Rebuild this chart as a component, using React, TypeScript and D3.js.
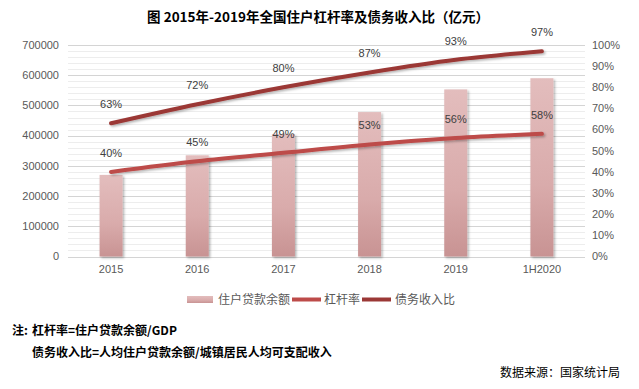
import React, { useEffect, useRef } from 'react';
import * as d3 from 'd3';

const categories = ['2015', '2016', '2017', '2018', '2019', '1H2020'];
const loanBalance = [270000, 335000, 405000, 478000, 553000, 590000];
const leverageRatio = [40, 45, 49, 53, 56, 58];
const debtIncomeRatio = [63, 72, 80, 87, 93, 97];
const leftTicks = [0, 100000, 200000, 300000, 400000, 500000, 600000, 700000];
const rightTicks = [0, 10, 20, 30, 40, 50, 60, 70, 80, 90, 100];
const legendLabels = ['住户贷款余额', '杠杆率', '债务收入比'];

const FONT = "'Liberation Sans', Arial, 'Noto Sans CJK SC', sans-serif";
const CJK = "'Noto Sans CJK SC', sans-serif";

function Chart() {
    const svgRef = useRef<SVGSVGElement>(null);

    useEffect(() => {
        const svg = d3.select(svgRef.current);
        svg.selectAll('*').remove();

        const width = 639;
        const height = 389;
        const margin = { top: 45, right: 54, bottom: 133, left: 68 };
        const plotBottom = height - margin.bottom + 0.5;

        const x = d3.scaleBand()
            .domain(categories)
            .range([margin.left, width - margin.right]);

        const yL = d3.scaleLinear().domain([0, 700000]).range([plotBottom, margin.top]);
        const yR = d3.scaleLinear().domain([0, 100]).range([plotBottom, margin.top]);

        const defs = svg.append('defs');
        const grad = defs.append('linearGradient')
            .attr('id', 'barGrad')
            .attr('x1', 0).attr('y1', 0).attr('x2', 0).attr('y2', 1);
        grad.append('stop').attr('offset', '0%').attr('stop-color', '#e3bdbd');
        grad.append('stop').attr('offset', '60%').attr('stop-color', '#d9abab');
        grad.append('stop').attr('offset', '100%').attr('stop-color', '#c89393');

        const shadow = defs.append('filter').attr('id', 'shadow')
            .attr('x', '-20%').attr('y', '-20%').attr('width', '150%').attr('height', '150%');
        shadow.append('feDropShadow')
            .attr('dx', 1.5).attr('dy', 1.5).attr('stdDeviation', 1.2)
            .attr('flood-color', '#000').attr('flood-opacity', 0.3);

        // title
        svg.append('text')
            .attr('x', 318).attr('y', 22)
            .attr('text-anchor', 'middle')
            .style('font-family', CJK)
            .style('font-size', '13.5px')
            .style('font-weight', 'bold')
            .attr('fill', '#000')
            .text('图 2015年-2019年全国住户杠杆率及债务收入比（亿元）');

        // grid: minor every 20000, major every 100000
        const minor = d3.range(0, 700001, 20000);
        svg.append('g').selectAll('line')
            .data(minor)
            .enter().append('line')
            .attr('x1', margin.left).attr('x2', width - margin.right)
            .attr('y1', d => Math.round(yL(d)) + 0.5)
            .attr('y2', d => Math.round(yL(d)) + 0.5)
            .attr('stroke', d => (d % 100000 === 0 ? '#d4d4d4' : '#ededed'))
            .attr('stroke-width', 1);

        // left axis labels
        svg.append('g').selectAll('text')
            .data(leftTicks)
            .enter().append('text')
            .attr('x', 59)
            .attr('y', d => yL(d))
            .attr('dy', '0.35em')
            .attr('text-anchor', 'end')
            .style('font-family', FONT)
            .style('font-size', '11px')
            .attr('fill', '#595959')
            .text(d => d);

        // right axis labels
        svg.append('g').selectAll('text')
            .data(rightTicks)
            .enter().append('text')
            .attr('x', 592)
            .attr('y', d => yR(d))
            .attr('dy', '0.35em')
            .style('font-family', FONT)
            .style('font-size', '11px')
            .attr('fill', '#595959')
            .text(d => d + '%');

        // x labels
        svg.append('g').selectAll('text')
            .data(categories)
            .enter().append('text')
            .attr('x', d => (x(d) as number) + x.bandwidth() / 2)
            .attr('y', 273)
            .attr('text-anchor', 'middle')
            .style('font-family', FONT)
            .style('font-size', '11px')
            .attr('fill', '#595959')
            .text(d => d);

        // bars
        const barW = 23;
        svg.append('g').selectAll('rect')
            .data(loanBalance)
            .enter().append('rect')
            .attr('x', (d, i) => (x(categories[i]) as number) + x.bandwidth() / 2 - barW / 2)
            .attr('y', d => yL(d))
            .attr('width', barW)
            .attr('height', d => plotBottom - yL(d))
            .attr('fill', 'url(#barGrad)')
            .attr('filter', 'url(#shadow)');

        const cx = (i: number) => (x(categories[i]) as number) + x.bandwidth() / 2;

        const line = d3.line<number>()
            .x((d, i) => cx(i))
            .y(d => yR(d))
            .curve(d3.curveMonotoneX);

        const series = [
            { data: leverageRatio, color: '#bd4b49' },
            { data: debtIncomeRatio, color: '#9b3836' },
        ];

        series.forEach(s => {
            svg.append('path')
                .datum(s.data)
                .attr('fill', 'none')
                .attr('stroke', s.color)
                .attr('stroke-width', 4)
                .attr('stroke-linecap', 'round')
                .attr('filter', 'url(#shadow)')
                .attr('d', line);

            svg.append('g').selectAll('text')
                .data(s.data)
                .enter().append('text')
                .attr('x', (d, i) => cx(i))
                .attr('y', d => yR(d) - 15)
                .attr('text-anchor', 'middle')
                .style('font-family', FONT)
                .style('font-size', '11px')
                .attr('fill', '#404040')
                .text(d => d + '%');
        });

        // legend
        const lg = svg.append('g');
        lg.append('rect')
            .attr('x', 187).attr('y', 296)
            .attr('width', 26).attr('height', 7)
            .attr('fill', 'url(#barGrad)');
        lg.append('text')
            .attr('x', 218).attr('y', 303.5)
            .style('font-family', CJK).style('font-size', '12px')
            .attr('fill', '#595959')
            .text(legendLabels[0]);
        lg.append('line')
            .attr('x1', 292).attr('x2', 321).attr('y1', 299.5).attr('y2', 299.5)
            .attr('stroke', series[0].color).attr('stroke-width', 4);
        lg.append('text')
            .attr('x', 324).attr('y', 303.5)
            .style('font-family', CJK).style('font-size', '12px')
            .attr('fill', '#595959')
            .text(legendLabels[1]);
        lg.append('line')
            .attr('x1', 362).attr('x2', 391).attr('y1', 299.5).attr('y2', 299.5)
            .attr('stroke', series[1].color).attr('stroke-width', 4);
        lg.append('text')
            .attr('x', 395).attr('y', 303.5)
            .style('font-family', CJK).style('font-size', '12px')
            .attr('fill', '#595959')
            .text(legendLabels[2]);

        // notes
        const notes = svg.append('g')
            .style('font-family', CJK)
            .style('font-size', '12px')
            .style('font-weight', 'bold')
            .attr('fill', '#000');
        notes.append('text').attr('x', 12).attr('y', 335).text('注:');
        notes.append('text').attr('x', 32).attr('y', 335).text('杠杆率=住户贷款余额/GDP');
        notes.append('text').attr('x', 32).attr('y', 357).text('债务收入比=人均住户贷款余额/城镇居民人均可支配收入');

        svg.append('text')
            .attr('x', 620).attr('y', 377)
            .attr('text-anchor', 'end')
            .style('font-family', CJK)
            .style('font-size', '12px')
            .attr('fill', '#000')
            .text('数据来源：国家统计局');
    }, []);

    return <svg ref={svgRef} width={639} height={389} style={{ display: 'block' }}></svg>;
}

export default function App() {
    return (
        <div style={{ position: 'absolute', left: 0, top: 0, background: '#fff' }}>
            <Chart />
        </div>
    );
}
